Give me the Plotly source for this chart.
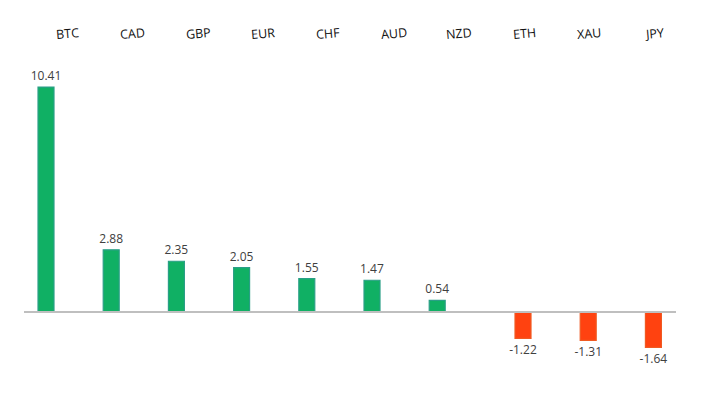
import plotly.graph_objects as go

categories = ["BTC", "CAD", "GBP", "EUR", "CHF", "AUD", "NZD", "ETH", "XAU", "JPY"]
values = [10.41, 2.88, 2.35, 2.05, 1.55, 1.47, 0.54, -1.22, -1.31, -1.64]

pos_vals = [v if v > 0 else None for v in values]
neg_vals = [v if v < 0 else None for v in values]

FONT = "Open Sans"
fig = go.Figure()
fig.add_trace(go.Bar(
    x=categories, y=pos_vals, width=0.245, offset=-0.285,
    marker=dict(color="#10b064", line=dict(color="#2a9f86", width=1.2)),
    text=[f"{v:.2f}" if v is not None else "" for v in pos_vals],
    textposition="outside", cliponaxis=False, constraintext="none",
    textfont=dict(family=FONT, size=12, color="#404040"),
    showlegend=False, hoverinfo="x+y",
))
fig.add_trace(go.Bar(
    x=categories, y=neg_vals, width=0.245, offset=0.031,
    marker=dict(color="#ff4210", line=dict(color="#f05a22", width=1.2)),
    text=[f"{v:.2f}" if v is not None else "" for v in neg_vals],
    textposition="outside", cliponaxis=False, constraintext="none",
    textfont=dict(family=FONT, size=12, color="#404040"),
    showlegend=False, hoverinfo="x+y",
))

for c in categories:
    fig.add_annotation(x=c, y=12.91, xref="x", yref="y", text=c, showarrow=False,
                       xshift=11, textangle=-5,
                       font=dict(family=FONT, size=12.5, color="#111111"))

fig.add_shape(type="line", xref="paper", yref="y", x0=0, x1=1, y0=0, y1=0,
              line=dict(color="#bfbfbf", width=2), layer="above")

fig.update_layout(
    width=715, height=396,
    margin=dict(l=16, r=47, t=0, b=0),
    paper_bgcolor="white", plot_bgcolor="white",
    barmode="overlay",
    xaxis=dict(visible=False, type="category", range=[-0.5, 9.5]),
    yaxis=dict(visible=False, range=[-4.257, 14.07]),
    font=dict(family=FONT),
)
fig.write_html("out.html")
